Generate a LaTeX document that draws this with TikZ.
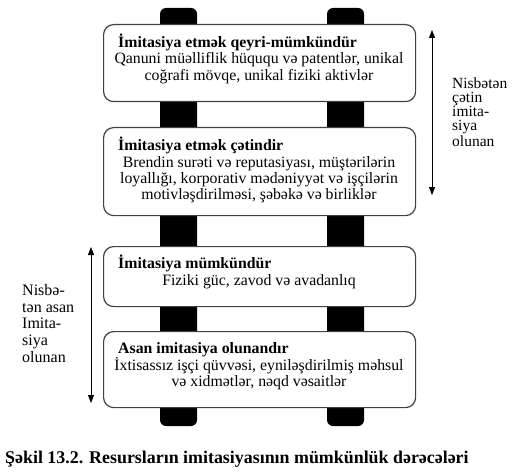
\documentclass[tikz,border=0pt]{standalone}
\usepackage{fontspec}
\setmainfont{Liberation Serif}
\usetikzlibrary{arrows.meta}
\newcommand{\bodylines}[1]{\begin{tabular}[t]{@{}c@{}}#1\end{tabular}}
\begin{document}
\begin{tikzpicture}[x=1pt,y=-1pt,
  pillar/.style={fill=black,rounded corners=6pt},
  levelbox/.style={draw=black!75,line width=1.2pt,fill=white,rounded corners=10pt,
    minimum width=312pt,inner sep=0pt,anchor=north west},
  title/.style={anchor=base west,inner sep=0pt,font=\fontsize{15.8}{16.3}\selectfont\bfseries},
  body/.style={anchor=base,inner sep=0pt,font=\fontsize{15.8}{16.3}\selectfont},
  side/.style={anchor=north west,inner sep=0pt,align=left},
  dblarrow/.style={line width=0.9pt,{Triangle[length=8pt,width=6pt]}-{Triangle[length=8pt,width=6pt]}}]
\useasboundingbox (0,0) rectangle (513,473);
\fill[white] (0,0) rectangle (513,473);
% pillars
\path[pillar] (160,8) rectangle (197,426);
\path[pillar] (327,8) rectangle (364,426);
% boxes
\node[levelbox,minimum height=77pt] (b1) at (103,24) {};
\node[levelbox,minimum height=88pt] (b2) at (103,127) {};
\node[levelbox,minimum height=60pt] (b3) at (103,246) {};
\node[levelbox,minimum height=76pt] (b4) at (103,331) {};
% texts
\node[title] (t1) at (118,48) {İmitasiya etmək qeyri-mümkündür};
\node[body] (d1) at (259,64) {\bodylines{Qanuni müəlliflik hüququ və patentlər, unikal\\coğrafi mövqe, unikal fiziki aktivlər}};
\node[title] (t2) at (118,150) {İmitasiya etmək çətindir};
\node[body] (d2) at (259,167) {\bodylines{Brendin surəti və reputasiyası, müştərilərin\\loyallığı, korporativ mədəniyyət və işçilərin\\motivləşdirilməsi, şəbəkə və birliklər}};
\node[title] (t3) at (118,268) {İmitasiya mümkündür};
\node[body] (d3) at (259,285) {\bodylines{Fiziki güc, zavod və avadanlıq}};
\node[title] (t4) at (118,353) {Asan imitasiya olunandır};
\node[body] (d4) at (259,370) {\bodylines{İxtisassız işçi qüvvəsi, eyniləşdirilmiş məhsul\\və xidmətlər, nəqd vəsaitlər}};
% arrows
\coordinate (rt) at (432,30);
\coordinate (rb) at (432,195);
\draw[dblarrow] (rt) -- (rb);
\coordinate (lt) at (91,247);
\coordinate (lb) at (91,403);
\draw[dblarrow] (lt) -- (lb);
% side labels
\node[side,font=\fontsize{15.5}{14}\selectfont] (rl) at (452,78) {Nisbətən\\çətin\\imita-\\siya\\olunan};
\node[side,font=\fontsize{16}{16.7}\selectfont] (ll) at (22,284) {Nisbə-\\tən asan\\Imita-\\siya\\olunan};
% caption
\node[anchor=base west,inner sep=0pt,font=\fontsize{17.9}{20}\selectfont\bfseries] (cap) at (5,463) {Şəkil 13.2. Resursların imitasiyasının mümkünlük dərəcələri};
\end{tikzpicture}
\end{document}
